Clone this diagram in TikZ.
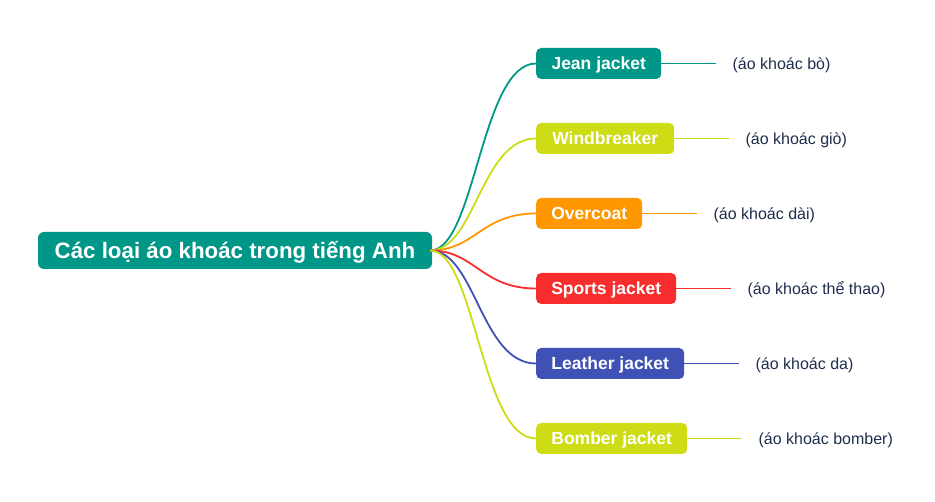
\documentclass[tikz,border=0pt]{standalone}
\usepackage{fontspec}
\setmainfont{Liberation Sans}
\definecolor{cteal}{RGB}{0,150,136}
\definecolor{clime}{RGB}{205,220,20}
\definecolor{corange}{RGB}{255,152,0}
\definecolor{cred}{RGB}{248,46,46}
\definecolor{cindigo}{RGB}{63,81,181}
\definecolor{textc}{RGB}{31,45,77}
\begin{document}
\begin{tikzpicture}[x=1pt,y=-1pt,
  box/.style={rounded corners=5pt, text=white, font=\bfseries\fontsize{17.5}{17.5}\selectfont, minimum height=31pt, inner xsep=2pt, text height=12.6pt, text depth=0pt, anchor=west},
  tag/.style={text=textc, font=\fontsize{16}{16}\selectfont, anchor=west, inner sep=0pt, text height=11.5pt, text depth=0pt},
  br/.style={line width=1.8pt}]
\useasboundingbox (0,0) rectangle (935,502);
\node[fill=cteal, rounded corners=6pt, text=white, font=\bfseries\fontsize{22.3}{22}\selectfont, minimum width=394pt, minimum height=37pt, inner xsep=2pt, text height=16pt, text depth=0pt] (root) at (235,250.5) {Các loại áo khoác trong tiếng Anh};

\node[box, fill=cteal, minimum width=125pt] (n1) at (536,63.5) {Jean jacket};
\node[box, fill=clime, minimum width=138pt] (n2) at (536,138.5) {Windbreaker};
\node[box, fill=corange, minimum width=106pt] (n3) at (536,213.5) {Overcoat};
\node[box, fill=cred, minimum width=140pt] (n4) at (536,288.5) {Sports jacket};
\node[box, fill=cindigo, minimum width=148pt] (n5) at (536,363.5) {Leather jacket};
\node[box, fill=clime, minimum width=151pt] (n6) at (536,438.5) {Bomber jacket};

\foreach \i/\c/\t in {1/cteal/{(áo khoác bò)}, 2/clime/{(áo khoác giò)}, 3/corange/{(áo khoác dài)}, 4/cred/{(áo khoác thể thao)}, 5/cindigo/{(áo khoác da)}, 6/clime/{(áo khoác bomber)}}{
  \draw[br, \c] ([xshift=-2pt]root.east) .. controls +(45,0) and +(-55,0) .. (n\i.west);
  \draw[br, \c] (n\i.east) -- ++(55,0) coordinate (e\i);
  \node[tag] (t\i) at ([xshift=16pt]e\i) {\t};
}
\end{tikzpicture}
\end{document}
